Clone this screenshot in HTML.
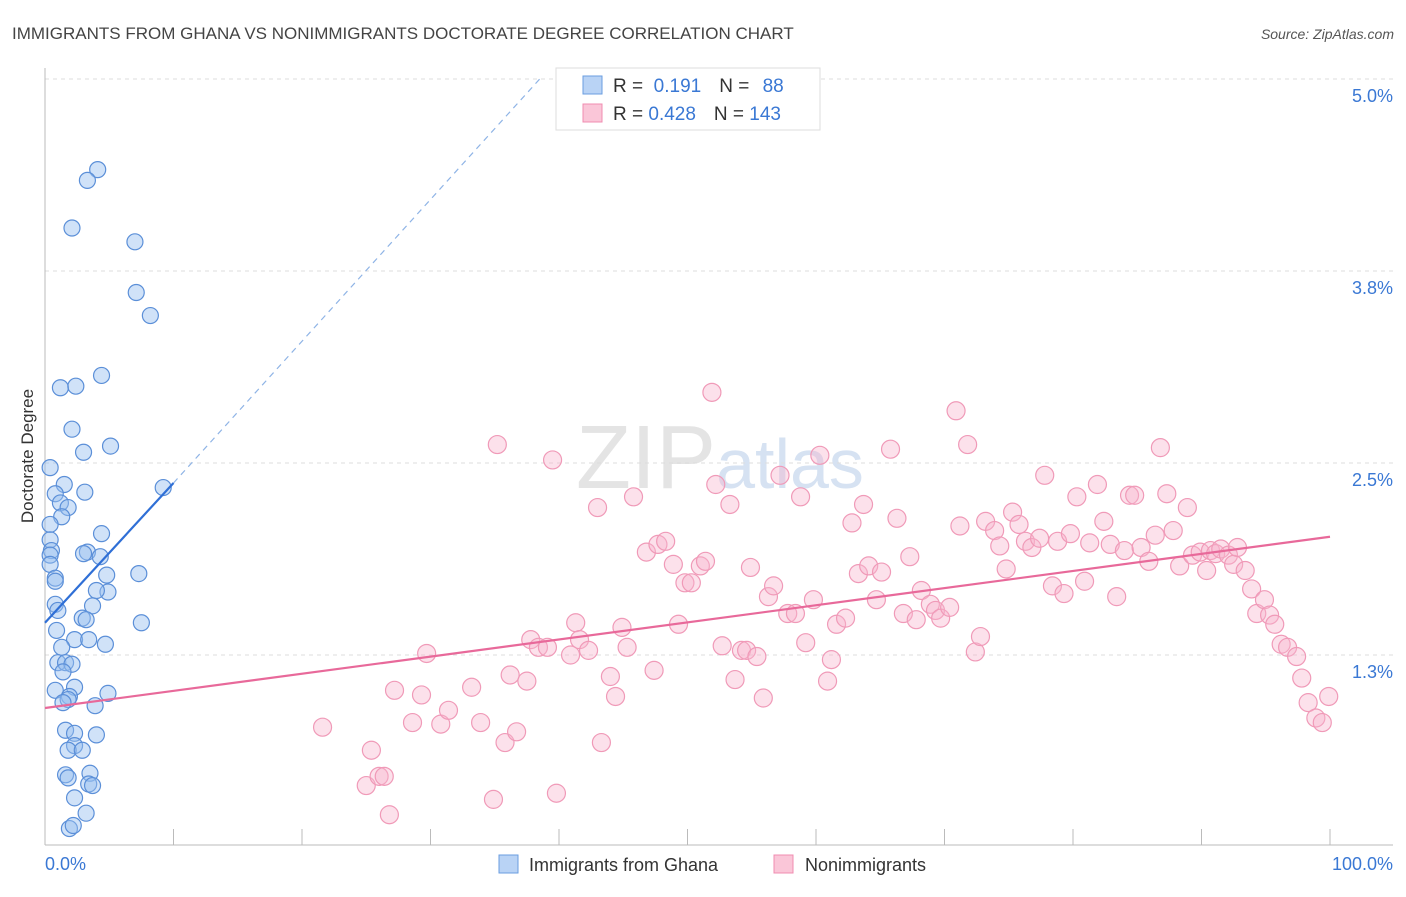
<!DOCTYPE html>
<html><head><meta charset="utf-8"><style>
body{margin:0;background:#fff;font-family:"Liberation Sans",sans-serif;}
svg text{font-family:"Liberation Sans",sans-serif;}
</style></head><body>
<svg id="chart" width="1406" height="892" xmlns="http://www.w3.org/2000/svg">
<text x="12" y="39" font-size="17" fill="#444">IMMIGRANTS FROM GHANA VS NONIMMIGRANTS DOCTORATE DEGREE CORRELATION CHART</text>
<text x="1394" y="39" font-size="14" fill="#555" text-anchor="end" font-style="italic">Source: ZipAtlas.com</text>
<text x="720" y="488" font-size="90" fill="#e4e4e4" text-anchor="middle" font-family="Liberation Serif">ZIP<tspan fill="#d6e2f2" font-family="Liberation Sans" font-size="70">atlas</tspan></text>
<g id="grid"></g>
<g id="axes"></g>
<g id="blue-pts"></g>
<g id="pink-pts"></g>
<g id="trends"></g>
<text transform="translate(33,456) rotate(-90)" font-size="17" fill="#333" text-anchor="middle">Doctorate Degree</text>
<g>
<rect x="556" y="68" width="264" height="62" fill="#fff" stroke="#ddd"/>
<rect x="583" y="76" width="19" height="18" fill="#b9d3f5" stroke="#6a9ee0"/>
<rect x="583" y="104" width="19" height="18" fill="#fac6d8" stroke="#f08cb0"/>
<text x="613" y="92" font-size="19" fill="#333">R = <tspan fill="#3a78d4">&#160;0.191</tspan><tspan dx="18">N = </tspan><tspan fill="#3a78d4" dx="8">88</tspan></text>
<text x="613" y="120" font-size="19" fill="#333">R = <tspan fill="#3a78d4">0.428</tspan><tspan dx="18">N = </tspan><tspan fill="#3a78d4">143</tspan></text>
</g>
<g>
<rect x="499" y="855" width="19" height="18" fill="#b9d3f5" stroke="#6a9ee0"/>
<text x="529" y="871" font-size="18" fill="#333">Immigrants from Ghana</text>
<rect x="774" y="855" width="19" height="18" fill="#fac6d8" stroke="#f08cb0"/>
<text x="805" y="871" font-size="18" fill="#333">Nonimmigrants</text>
</g>
</svg>
<script>
const yTicks=[5.0,3.75,2.5,1.25];
const yTickLabels=["5.0%","3.8%","2.5%","1.3%"];
const xTicks=[0,10,20,30,40,50,60,70,80,90,100];
const blueX=[4.1,3.3,2.1,7.0,7.1,8.2,4.4,1.2,2.4,2.1,5.1,3.0,0.4,1.5,3.1,0.8,9.2,1.2,1.8,1.3,0.4,4.4,0.4,0.5,0.4,3.3,4.3,3.0,0.4,4.8,7.3,0.8,0.8,4.9,4.0,0.8,1.0,3.7,2.9,3.2,7.5,0.9,2.3,3.4,4.7,1.3,1.0,1.6,2.1,1.4,2.3,4.9,0.8,1.9,1.8,3.9,1.4,1.6,2.3,4.0,2.3,1.8,2.9,3.5,1.6,1.8,3.4,3.7,2.3,3.2,1.9,2.2];
const blueY=[4.41,4.34,4.03,3.94,3.61,3.46,3.07,2.99,3.00,2.72,2.61,2.57,2.47,2.36,2.31,2.30,2.34,2.24,2.21,2.15,2.10,2.04,2.00,1.93,1.90,1.92,1.89,1.91,1.84,1.77,1.78,1.75,1.73,1.66,1.67,1.58,1.54,1.57,1.49,1.48,1.46,1.41,1.35,1.35,1.32,1.30,1.20,1.20,1.19,1.14,1.04,1.00,1.02,0.98,0.96,0.92,0.94,0.76,0.74,0.73,0.66,0.63,0.63,0.48,0.47,0.45,0.41,0.40,0.32,0.22,0.12,0.14];
const pinkX=[21.6,25.0,25.4,26.0,26.4,26.8,27.2,28.6,29.3,29.7,30.8,31.4,33.2,33.9,34.9,35.2,35.8,36.2,36.7,37.5,37.8,38.4,39.1,39.5,39.8,40.9,41.3,41.6,42.3,43.0,43.3,44.0,44.4,44.9,45.3,45.8,46.8,47.4,47.7,48.3,48.9,49.3,49.8,50.3,51.0,51.4,51.9,52.2,52.7,53.3,53.7,54.2,54.6,54.9,55.4,55.9,56.3,56.7,57.2,57.8,58.4,58.8,59.2,59.8,60.3,60.9,61.2,61.6,62.3,62.8,63.3,63.7,64.1,64.7,65.1,65.8,66.3,66.8,67.3,67.8,68.2,68.9,69.3,69.7,70.4,70.9,71.2,71.8,72.4,72.8,73.2,73.9,74.3,74.8,75.3,75.8,76.3,76.8,77.4,77.8,78.4,78.8,79.3,79.8,80.3,80.9,81.3,81.9,82.4,82.9,83.4,84.0,84.4,84.8,85.3,85.9,86.4,86.8,87.3,87.8,88.3,88.9,89.3,89.9,90.4,90.7,91.1,91.5,92.1,92.5,92.8,93.4,93.9,94.3,94.9,95.3,95.7,96.2,96.7,97.4,97.8,98.3,98.9,99.4,99.9];
const pinkY=[0.78,0.40,0.63,0.46,0.46,0.21,1.02,0.81,0.99,1.26,0.80,0.89,1.04,0.81,0.31,2.62,0.68,1.12,0.75,1.08,1.35,1.30,1.30,2.52,0.35,1.25,1.46,1.35,1.28,2.21,0.68,1.11,0.98,1.43,1.30,2.28,1.92,1.15,1.97,1.99,1.84,1.45,1.72,1.72,1.83,1.86,2.96,2.36,1.31,2.23,1.09,1.28,1.28,1.82,1.24,0.97,1.63,1.70,2.42,1.52,1.52,2.28,1.33,1.61,2.55,1.08,1.22,1.45,1.49,2.11,1.78,2.23,1.83,1.61,1.79,2.59,2.14,1.52,1.89,1.48,1.67,1.58,1.54,1.49,1.56,2.84,2.09,2.62,1.27,1.37,2.12,2.06,1.96,1.81,2.18,2.10,1.99,1.95,2.01,2.42,1.70,1.99,1.65,2.04,2.28,1.73,1.98,2.36,2.12,1.97,1.63,1.93,2.29,2.29,1.95,1.86,2.03,2.60,2.30,2.06,1.83,2.21,1.90,1.92,1.80,1.93,1.91,1.94,1.90,1.84,1.95,1.80,1.68,1.52,1.61,1.51,1.45,1.32,1.30,1.24,1.10,0.94,0.84,0.81,0.98];
const blueTrendX=[0,10];const blueTrendY=[1.46,2.37];
const blueDashX=[10,38.5];const blueDashY=[2.37,5.0];
const pinkTrendX=[0,100];const pinkTrendY=[0.905,2.02];

const NS="http://www.w3.org/2000/svg";
const X=v=>45+v*12.85;
const Y=v=>847-v*153.6;
function mk(tag,attrs,parent){const e=document.createElementNS(NS,tag);for(const k in attrs)e.setAttribute(k,attrs[k]);parent.appendChild(e);return e;}
const grid=document.getElementById('grid'),axes=document.getElementById('axes');
yTicks.forEach((t,i)=>{
  const l=mk('line',{x1:45,x2:1393,y1:Y(t),y2:Y(t),stroke:'#ddd','stroke-dasharray':'4,4'},grid);
  
  
  const tx=mk('text',{x:1393,y:Y(t)+23,'font-size':18,fill:'#3a78d4','text-anchor':'end'},axes);
  tx.textContent=yTickLabels[i];
  
  
});
const al=mk('line',{x1:45,x2:45,y1:68,y2:845,stroke:'#bbb'},axes);


const bl=mk('line',{x1:45,x2:1393,y1:845,y2:845,stroke:'#bbb'},axes);


xTicks.forEach(t=>{
  const l=mk('line',{x1:X(t),x2:X(t),y1:829,y2:845,stroke:'#bbb'},axes);
  
  
});
const x0=mk('text',{x:45,y:870,'font-size':18,fill:'#3a78d4'},axes);x0.textContent='0.0%';


const x1=mk('text',{x:1393,y:870,'font-size':18,fill:'#3a78d4','text-anchor':'end'},axes);x1.textContent='100.0%';


const bg=document.getElementById('blue-pts'),pg=document.getElementById('pink-pts');
blueX.forEach((v,i)=>{
  const c=mk('circle',{cx:X(v),cy:Y(blueY[i]),r:8,fill:'rgba(150,190,240,0.45)',stroke:'#5b8fd8','stroke-width':1.2},bg);
  
  
});
pinkX.forEach((v,i)=>{
  const c=mk('circle',{cx:X(v),cy:Y(pinkY[i]),r:9,fill:'rgba(248,180,205,0.4)',stroke:'#f09ab8','stroke-width':1.2},pg);
  
  
});
const tg=document.getElementById('trends');
const bd=mk('line',{x1:X(blueDashX[0]),y1:Y(blueDashY[0]),x2:X(blueDashX[1]),y2:Y(blueDashY[1]),stroke:'#8fb4e6','stroke-width':1.2,'stroke-dasharray':'6,5'},tg);


const bt=mk('line',{x1:X(blueTrendX[0]),y1:Y(blueTrendY[0]),x2:X(blueTrendX[1]),y2:Y(blueTrendY[1]),stroke:'#2f6fd6','stroke-width':2.2},tg);


const pt=mk('line',{x1:X(pinkTrendX[0]),y1:Y(pinkTrendY[0]),x2:X(pinkTrendX[1]),y2:Y(pinkTrendY[1]),stroke:'#e8699a','stroke-width':2.2},tg);


</script>
</body></html>
